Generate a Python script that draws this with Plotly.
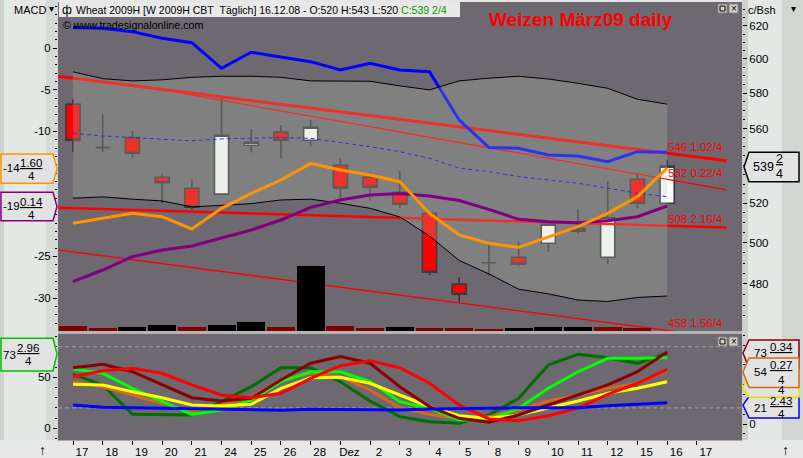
import math
import plotly.graph_objects as go

W, H = 803, 458
FONT = "Liberation Sans, Arial, sans-serif"

# ---------------- data ----------------
date_labels = ["17", "18", "19", "20", "21", "24", "25", "26", "28", "Dez", "2",
               "3", "4", "5", "8", "9", "10", "11", "12", "15", "16", "17"]
bar_idx = list(range(21))

opens = [573.7, 549.5, 555.0, 533.6, 527.8, 524.7, 550.8, 558.0, 553.5, 540.0, 533.6,
         525.7, 514.9, 479.9, 490.2, 492.9, 499.8, 505.8, 492.9, 532.5, 520.0]
highs = [576.7, 568.0, 558.7, 535.7, 532.5, 577.4, 559.8, 562.0, 564.8, 543.7, 536.2,
         536.9, 514.9, 483.3, 499.4, 500.6, 509.3, 517.1, 531.3, 535.2, 542.8]
lows = [547.0, 547.3, 544.1, 520.0, 516.9, 524.7, 546.8, 543.7, 550.0, 521.7, 521.4,
        517.7, 484.3, 470.9, 484.3, 488.6, 495.6, 504.6, 489.6, 517.4, 520.0]
closes = [553.5, 549.5, 546.4, 530.7, 518.0, 556.3, 552.4, 553.5, 560.7, 527.8, 528.3,
          519.5, 485.6, 475.1, 490.2, 489.5, 509.3, 507.1, 512.6, 520.0, 539.5]

bb_upper = [592.4, 588.4, 587.1, 587.7, 589.2, 589.8, 589.8, 589.2, 587.1, 587.1, 586.9,
            584.2, 581.9, 587.1, 588.7, 589.8, 588.2, 585.7, 582.8, 576.5, 573.7]
bb_mid = [557.4, 555.9, 555.0, 554.1, 553.2, 554.3, 554.6, 555.0, 554.6, 552.4, 550.0,
          547.3, 543.7, 538.4, 536.6, 533.9, 532.2, 530.4, 527.8, 525.2, 523.4]
bb_lower = [522.6, 523.3, 522.1, 521.2, 518.1, 519.1, 519.8, 521.7, 522.1, 520.0, 517.4,
            513.0, 503.4, 491.3, 484.8, 477.5, 475.3, 472.4, 471.7, 473.6, 474.3]
blue_avg = [619.0, 618.6, 616.5, 612.5, 609.8, 594.5, 604.0, 601.4, 598.4, 593.5, 597.5,
            593.5, 592.5, 564.8, 549.5, 549.2, 545.5, 545.0, 541.9, 547.3, 547.0]

# trend lines (start/end bar, start/end price)
trend_x = [[-0.5, 22.01], [2.76, 22.01], [-0.5, 22.01], [-0.5, 22.01]]
trend_y = [[589.8, 542.4], [582.7, 526.9], [517.7, 507.6], [496.5, 454.8]]
trend_w = [3, 1.3, 2.5, 1.3]
trend_label_vals = [546.255, 532.055, 508.54, 458.39]
trend_label_txt = ["546 1.02/4", "532 0.22/4", "508 2.16/4", "458 1.56/4"]

macd = [-21.04, -20.44, -19.84, -20.24, -21.72, -19.24, -17.44, -15.84, -13.84, -14.64, -15.24,
        -16.04, -19.84, -22.44, -23.44, -23.92, -22.64, -21.44, -19.84, -17.84, -14.4]
signal = [-28.04, -26.64, -25.04, -24.24, -23.76, -22.84, -21.84, -20.64, -19.12, -18.24, -17.64,
          -17.46, -17.76, -18.30, -19.36, -20.56, -20.84, -20.96, -20.72, -20.24, -18.96]

volume = [5500, 2800, 3800, 6500, 4500, 6500, 9500, 4500, 65500, 5500, 2800,
          4500, 3500, 3500, 2500, 3500, 4500, 4500, 4500, 3500, 0]
vol_colors = ["#800000", "#800000", "#000000", "#000000", "#800000", "#000000", "#000000",
              "#800000", "#000000", "#800000", "#800000", "#000000", "#800000", "#800000",
              "#800000", "#000000", "#000000", "#000000", "#800000", "#800000", "#000000"]

# stochastics panel
sto_darkgreen = [53.2, 42.5, 13.7, 13.7, 13.0, 26.1, 40.8, 59.4, 59.4, 45.7, 26.8,
                 11.4, 6.5, 4.9, 13.0, 29.4, 62.1, 72.5, 69.2, 63.7, 73.7]
sto_orange = [42.9, 37.8, 29.4, 21.0, 12.5, 19.3, 27.7, 44.6, 51.4, 48.0, 34.5,
              16.5, 9.8, 5.8, 7.4, 14.2, 23.3, 29.4, 36.2, 41.3, 54.1]
sto_lime = [55.8, 51.4, 36.2, 22.6, 9.8, 14.2, 24.3, 42.9, 53.0, 53.0, 42.9,
            22.6, 15.9, 4.1, 4.1, 15.9, 36.2, 53.0, 66.6, 66.6, 67.2]
sto_yellow = [40.3, 39.6, 32.8, 26.7, 19.3, 18.3, 20.0, 36.2, 47.0, 47.4, 41.3,
              29.4, 17.5, 8.4, 5.8, 9.1, 15.9, 23.3, 31.1, 36.2, 42.9]
sto_darkred = [57.1, 60.5, 53.0, 39.6, 26.7, 23.3, 26.1, 44.6, 61.6, 68.3, 61.6,
               37.8, 17.5, 5.8, 1.7, 9.1, 19.3, 28.7, 39.6, 53.0, 73.1]
sto_red = [48.0, 54.1, 56.5, 51.4, 39.6, 29.4, 26.7, 31.1, 46.3, 59.1, 64.2,
           57.1, 41.3, 19.3, 5.1, 3.3, 8.4, 16.2, 30.1, 41.3, 55.5]
sto_blue = [19.3, 16.9, 16.5, 15.9, 15.2, 14.5, 13.9, 13.9, 14.9, 14.9, 14.9,
            14.2, 15.2, 15.9, 15.9, 16.5, 16.5, 16.5, 18.6, 20.0, 21.6]


def fx(p):
    return p / W


def fy(p):
    return 1 - p / H


X_DOM = [fx(58), fx(742)]
X_RANGE = [-0.505, 22.52]
MAIN_DOM = [fy(331), fy(2)]
LOW_DOM = [fy(440), fy(334)]

fig = go.Figure()

# candles
fig.add_trace(go.Candlestick(
    x=bar_idx, open=opens, high=highs, low=lows, close=closes,
    increasing=dict(line=dict(color="#3A3A3A", width=1.6), fillcolor="#FFFFFF"),
    decreasing=dict(line=dict(color="#3A3A3A", width=1.6), fillcolor="#FF0000"),
    whiskerwidth=0, showlegend=False, hoverinfo="skip", xaxis="x", yaxis="y"))

# trend lines
for tx, ty, w in zip(trend_x, trend_y, trend_w):
    fig.add_trace(go.Scatter(x=tx, y=ty, mode="lines", line=dict(color="#FF0000", width=w),
                             hoverinfo="skip", xaxis="x", yaxis="y"))

fig.add_trace(go.Scatter(x=bar_idx, y=bb_mid, mode="lines",
                         line=dict(color="#0000FF", width=1, dash="4px,3px"),
                         hoverinfo="skip", xaxis="x", yaxis="y"))
fig.add_trace(go.Scatter(x=bar_idx, y=blue_avg, mode="lines",
                         line=dict(color="#0000FF", width=3),
                         hoverinfo="skip", xaxis="x", yaxis="y"))

# bollinger band, fill drawn over the candles
fig.add_trace(go.Scatter(x=bar_idx, y=bb_upper, mode="lines", line=dict(color="#000000", width=1),
                         hoverinfo="skip", xaxis="x", yaxis="y"))
fig.add_trace(go.Scatter(x=bar_idx, y=bb_lower, mode="lines", line=dict(color="#000000", width=1),
                         fill="tonexty", fillcolor="rgba(182,200,176,0.25)",
                         hoverinfo="skip", xaxis="x", yaxis="y"))

# MACD
fig.add_trace(go.Scatter(x=bar_idx, y=signal, mode="lines", line=dict(color="#800080", width=3),
                         hoverinfo="skip", xaxis="x", yaxis="y2"))
fig.add_trace(go.Scatter(x=bar_idx, y=macd, mode="lines", line=dict(color="#FF9400", width=3),
                         hoverinfo="skip", xaxis="x", yaxis="y2"))

# volume
fig.add_trace(go.Bar(x=bar_idx, y=volume, marker=dict(color=vol_colors, line=dict(width=0)),
                     width=0.94, hoverinfo="skip", xaxis="x", yaxis="y3"))

# stochastics
fig.add_trace(go.Scatter(x=bar_idx, y=sto_darkgreen, mode="lines", line=dict(color="#006E00", width=3),
                         hoverinfo="skip", xaxis="x2", yaxis="y4"))
for vals, col in [(sto_orange, "#D2691E"), (sto_lime, "#00FF00"), (sto_yellow, "#FFFF00"),
                  (sto_darkred, "#8B0000"), (sto_red, "#FF0000"), (sto_blue, "#0000FF")]:
    fig.add_trace(go.Scatter(x=bar_idx, y=vals, mode="lines", line=dict(color=col, width=3),
                             hoverinfo="skip", xaxis="x2", yaxis="y5"))

tick_font = dict(family=FONT, size=11.5, color="black")
price_ticks = [480, 500, 520, 540, 560, 580, 600, 620]
price_text = ["480", "500", "520", "", "560", "580", "600", "620"]

fig.update_layout(
    width=W, height=H, margin=dict(l=0, r=0, t=0, b=0),
    paper_bgcolor="#E4E8E4", plot_bgcolor="#6E6870",
    showlegend=False, boxgap=0.32, bargap=0,
    font=dict(family=FONT, size=12, color="black"),
    xaxis=dict(domain=X_DOM, range=X_RANGE, anchor="y", visible=False,
               rangeslider=dict(visible=False)),
    yaxis=dict(domain=MAIN_DOM, anchor="x", type="log",
               range=[math.log10(458.1), math.log10(634.9)], side="right",
               tickmode="array", tickvals=price_ticks, ticktext=price_text,
               ticks="outside", ticklen=4, tickcolor="black", tickfont=tick_font,
               showgrid=False, zeroline=False, showline=False,
               minor=dict(tickvals=[v for v in range(460, 636, 5) if v % 20],
                          ticks="outside", ticklen=2, tickcolor="black")),
    yaxis2=dict(overlaying="y", anchor="x", side="left", range=[-33.96, 5.52],
                tickmode="array", tickvals=[0, -5, -10, -15, -20, -25, -30],
                ticktext=["0", "-5", "-10", "", "", "-25", "-30"],
                ticks="outside", ticklen=4, tickcolor="black", tickfont=tick_font,
                showgrid=False, zeroline=False,
                minor=dict(dtick=1, ticks="outside", ticklen=2, tickcolor="black")),
    yaxis3=dict(overlaying="y", anchor="x", visible=False, range=[0, 329000]),
    xaxis2=dict(domain=X_DOM, range=X_RANGE, anchor="y4",
                tickmode="array", tickvals=list(range(22)), ticktext=date_labels,
                ticks="outside", ticklen=4, tickcolor="black", tickfont=tick_font,
                ticklabelshift=9, ticklabelstandoff=-3, showgrid=False, zeroline=False,
                showline=True, linecolor="#A8A8A8", linewidth=1),
    yaxis4=dict(domain=LOW_DOM, anchor="x2", side="left", range=[-11.47, 92.45],
                tickmode="array", tickvals=[0, 50], ticks="outside", ticklen=4,
                tickcolor="black", tickfont=tick_font, showgrid=False, zeroline=False,
                minor=dict(dtick=10, ticks="outside", ticklen=2, tickcolor="black")),
    yaxis5=dict(overlaying="y4", anchor="x2", side="right", range=[-16.23, 91.28],
                tickmode="array", tickvals=[0, 50], ticks="outside", ticklen=4,
                tickcolor="black", tickfont=tick_font, showgrid=False, zeroline=False,
                minor=dict(dtick=10, ticks="outside", ticklen=2, tickcolor="black")),
)

shapes = []
annos = []


def rect(x0, y0, x1, y1, fill, line=None, layer="below", lw=1):
    shapes.append(dict(type="rect", xref="paper", yref="paper",
                       x0=fx(x0), x1=fx(x1), y0=fy(y1), y1=fy(y0),
                       fillcolor=fill, layer=layer,
                       line=dict(color=line or fill, width=lw if line else 0)))


def text(x, y, s, size=11.5, color="black", xanchor="center", family=FONT):
    annos.append(dict(x=fx(x), y=fy(y), xref="paper", yref="paper", text=s, showarrow=False,
                      xanchor=xanchor, yanchor="middle", borderpad=0,
                      font=dict(family=family, size=size, color=color)))


def tag(xl, xr, xpt, yt, yb, ypt, color, point_right=True):
    if point_right:
        pts = [(xl, yt), (xr, yt), (xpt, ypt), (xr, yb), (xl, yb)]
    else:
        pts = [(xr, yt), (xl, yt), (xpt, ypt), (xl, yb), (xr, yb)]
    path = "M " + " L ".join(f"{fx(a):.5f},{fy(b):.5f}" for a, b in pts) + " Z"
    shapes.append(dict(type="path", xref="paper", yref="paper", path=path,
                       fillcolor="#E2E2E2", layer="above",
                       line=dict(color=color, width=1.5)))


# trend line value labels, just above each line at the last bar
for val, lab in zip(trend_label_vals, trend_label_txt):
    annos.append(dict(x=20, y=math.log10(val), xref="x", yref="y", text=lab, showarrow=False,
                      xanchor="left", yanchor="middle", yshift=7, borderpad=0,
                      font=dict(family=FONT, size=11.5, color="#FF0000")))

# axis strip shading
rect(0, 0, 4, 458, "#CDD1CD")
rect(46, 0, 58, 458, "#D6DAD6")
rect(742, 0, 748, 458, "#CDD1CD")
rect(782, 0, 803, 458, "#D2D6D2")
rect(0, 440, 803, 458, "#E8E8E8")
rect(58, 331, 742, 334, "#B4B4B4")

# header
rect(59, 2, 460, 17, "#E8E8E8", layer="above")
text(67, 10, "ф", size=12)
text(75, 10, "Wheat 2009H [W 2009H CBT\u00a0\u00a0Täglich] 16.12.08 - O:520 H:543 L:520 "
     "<span style='color:#00A000'>C:539 2/4</span>", size=10.5, xanchor="left")
text(581, 20, "<b>Weizen März09 daily</b>", size=19, color="#FF0000")
text(62, 25, "© www.tradesignalonline.com", size=10.7, xanchor="left")
text(13, 10, "MACD", size=11, xanchor="left")
text(51, 9, "▾", size=10)
text(747, 10, "c/Bsh", size=11, xanchor="left")
text(793, 9, "▾", size=10)

# window buttons
for top in (4, 337):
    rect(718, top, 727, top + 9, "#D4D0C8", line="#808080", layer="above")
    rect(729, top, 738, top + 9, "#D4D0C8", line="#808080", layer="above")
    rect(720, top + 2, 725, top + 7, "rgba(0,0,0,0)", line="#000000", layer="above")
    text(733.5, top + 4.5, "×", size=10)

# value tags, main panel
tag(1, 53, 57, 154, 183.3, 168.5, "#FF9400")
text(11, 168, "-14")
text(31, 162.5, "<u>1.60</u>")
text(31, 176, "4")
tag(1, 53, 57, 192.3, 220.7, 206.5, "#800080")
text(11, 206, "-19")
text(31, 202, "<u>0.14</u>")
text(31, 215, "4")
tag(749, 799, 744, 152.3, 181.7, 167, "#000000", point_right=False)
text(763, 166.5, "539", size=12.5)
text(779, 159, "<u>2</u>", size=12.5)
text(779, 174, "4", size=12.5)

# value tags, lower panel
tag(1, 53, 57, 338.3, 371, 354, "#00C000")
text(9, 355, "73")
text(28, 347.5, "<u>2.96</u>")
text(28, 361, "4")
tag(749, 799, 743, 340, 368, 353, "#8B0000", point_right=False)
text(760, 353, "73")
text(781, 347, "<u>0.34</u>")
tag(749, 799, 743, 396.5, 418, 405, "#0000FF", point_right=False)
text(760, 407.5, "21")
text(781, 401, "<u>2.43</u>")
text(781, 413.5, "4")
tag(749, 799, 743, 377, 397, 387, "#E8E800", point_right=False)
text(781, 390, "4")
tag(749, 799, 743, 358, 387.5, 372, "#D2691E", point_right=False)
text(760, 372, "54")
text(781, 365, "<u>0.27</u>")
text(781, 380, "4")

# stochastic guide levels
for lvl in (20, 80):
    shapes.append(dict(type="line", xref="x2 domain", yref="y4", x0=0, x1=1, y0=lvl, y1=lvl,
                       line=dict(color="#A0A0A0", width=1, dash="4px,3px"), layer="below"))

text(42, 450, "↑", size=14)
text(785, 450, "↑", size=14)

fig.update_layout(shapes=shapes, annotations=annos)
fig.write_html("out.html", config={"displayModeBar": False},
               post_script="document.body.style.margin='0';document.body.style.overflow='hidden';")
